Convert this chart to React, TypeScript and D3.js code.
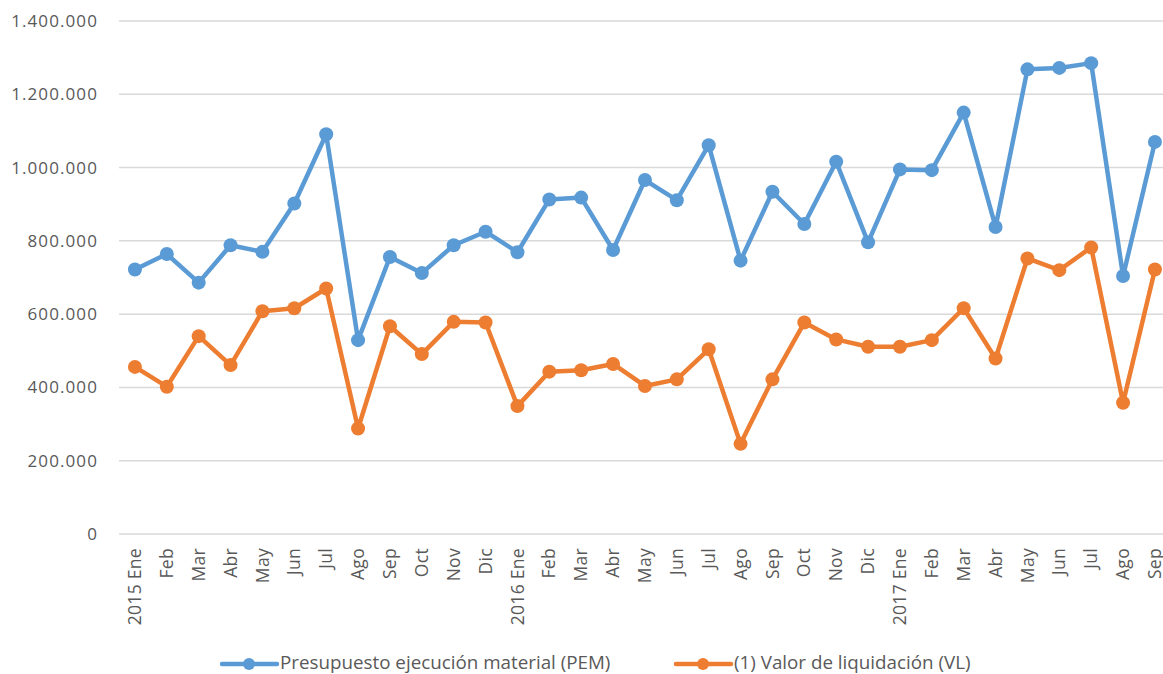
import React from "react";
import * as d3 from "d3";

const categories = [
  "2015 Ene", "Feb", "Mar", "Abr", "May", "Jun", "Jul", "Ago", "Sep", "Oct", "Nov", "Dic",
  "2016 Ene", "Feb", "Mar", "Abr", "May", "Jun", "Jul", "Ago", "Sep", "Oct", "Nov", "Dic",
  "2017 Ene", "Feb", "Mar", "Abr", "May", "Jun", "Jul", "Ago", "Sep",
];

const pem = [
  722000, 764000, 686000, 788000, 770000, 902000, 1091000, 529000, 756000, 712000, 788000, 825000,
  769000, 913000, 918000, 775000, 966000, 911000, 1061000, 746000, 934000, 846000, 1016000, 796000,
  995000, 993000, 1150000, 838000, 1268000, 1272000, 1285000, 704000, 1070000,
];

const vl = [
  456000, 402000, 540000, 461000, 608000, 616000, 670000, 288000, 567000, 491000, 579000, 577000,
  349000, 443000, 447000, 464000, 404000, 422000, 504000, 246000, 422000, 577000, 531000, 511000,
  511000, 529000, 616000, 479000, 752000, 720000, 782000, 358000, 722000,
];

const yTicks = [0, 200000, 400000, 600000, 800000, 1000000, 1200000, 1400000];

const seriesNames = ["Presupuesto ejecución material (PEM)", "(1) Valor de liquidación (VL)"];
const seriesColors = ["#5B9BD5", "#ED7D31"];

const W = 1163;
const H = 674;
const FONT = "'Open Sans', sans-serif";

export default function App() {
  const x = d3
    .scaleBand<number>()
    .domain(d3.range(categories.length))
    .range([119, 119 + 31.875 * categories.length]);
  const y = d3.scaleLinear().domain([0, 1400000]).range([534, 21]);
  const cx = (i: number) => (x(i) as number) + x.bandwidth() / 2;
  const fmt = (v: number) => d3.format(",")(v).replace(/,/g, ".");
  const line = d3
    .line<number>()
    .x((_, i) => cx(i))
    .y((d) => y(d));
  const allSeries = [pem, vl];

  return (
    <div style={{ position: "fixed", left: 0, top: 0 }}>
      <svg width={W} height={H} style={{ display: "block", background: "#fff" }}>
        {yTicks.map((t) => (
          <g key={t}>
            <line x1={119} x2={W} y1={y(t)} y2={y(t)} stroke="#D9D9D9" strokeWidth={1.5} />
            <text
              x={98}
              y={y(t)}
              dy="0.35em"
              textAnchor="end"
              fontFamily={FONT}
              fontSize={17}
              fill="#595959"
              letterSpacing={1.1}
            >
              {fmt(t)}
            </text>
          </g>
        ))}
        {categories.map((c, i) => (
          <text
            key={i}
            transform={`translate(${cx(i)},548) rotate(-90)`}
            dy="0.35em"
            textAnchor="end"
            fontFamily={FONT}
            fontSize={17.5}
            fill="#595959"
            letterSpacing={0.3}
          >
            {c}
          </text>
        ))}
        {allSeries.map((s, k) => (
          <g key={k}>
            <path
              d={line(s) || ""}
              fill="none"
              stroke={seriesColors[k]}
              strokeWidth={4.5}
              strokeLinejoin="round"
            />
            {s.map((v, i) => (
              <circle key={i} cx={cx(i)} cy={y(v)} r={7} fill={seriesColors[k]} />
            ))}
          </g>
        ))}
        {[
          { x0: 222, name: seriesNames[0], color: seriesColors[0] },
          { x0: 676, name: seriesNames[1], color: seriesColors[1] },
        ].map((l, k) => (
          <g key={k}>
            <line x1={l.x0} x2={l.x0 + 55} y1={664} y2={664} stroke={l.color} strokeWidth={4.5} strokeLinecap="round" />
            <circle cx={l.x0 + 27} cy={664} r={6} fill={l.color} />
            <text
              x={l.x0 + 58}
              y={662}
              dy="0.35em"
              fontFamily={FONT}
              fontSize={18.8}
              fill="#595959"
            >
              {l.name}
            </text>
          </g>
        ))}
      </svg>
    </div>
  );
}
